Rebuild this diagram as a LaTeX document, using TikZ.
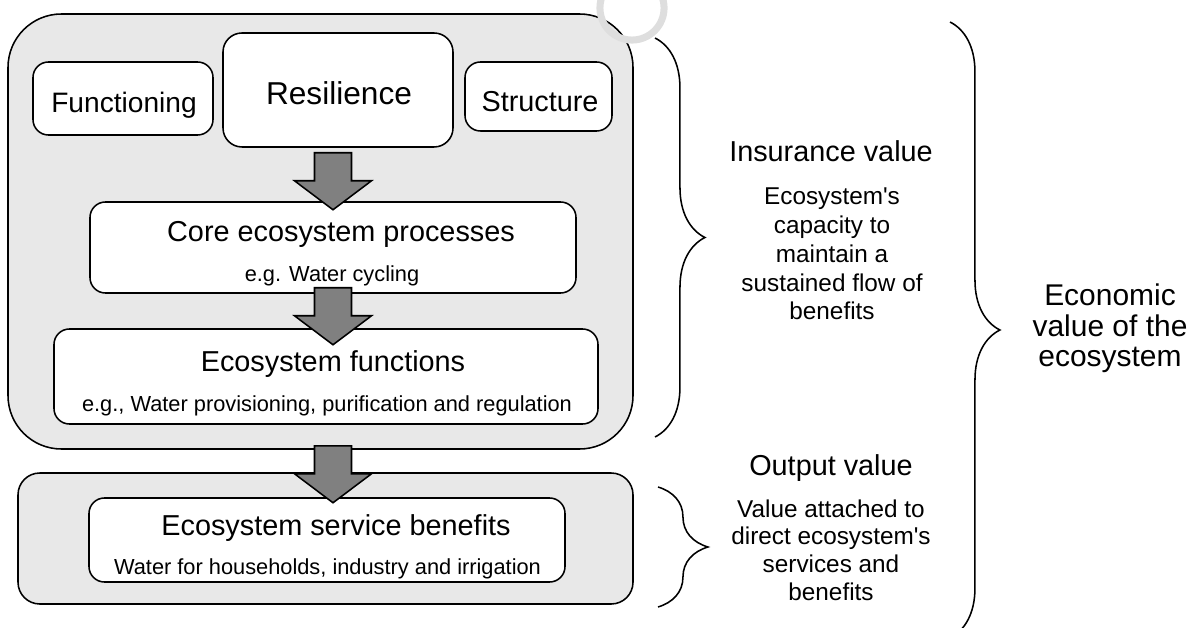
\documentclass[tikz,border=0pt]{standalone}
\usepackage{fontspec}
\setmainfont{Liberation Sans}
\usetikzlibrary{fit,calc,positioning,decorations.pathreplacing}

\definecolor{panelgray}{RGB}{232,232,232}
\definecolor{arrowgray}{RGB}{128,128,128}
\definecolor{markgray}{RGB}{222,222,222}

\tikzset{
  panel/.style={draw, line width=1.1pt, fill=panelgray, inner sep=0pt},
  box/.style={draw, line width=1.1pt, fill=white, rounded corners=11pt, inner sep=0pt},
  ttl/.style={anchor=base, inner sep=0pt, font=\fontsize{20.5}{24}\selectfont},
  sub/.style={anchor=base, inner sep=0pt, font=\fontsize{15.5}{18}\selectfont},
  note/.style={anchor=base, inner sep=0pt, align=center},
  curly/.style={decorate, decoration={brace, amplitude=35.5pt}, line width=1.1pt},
  downarrow/.pic={
    \draw[fill=arrowgray, line width=1.1pt] (-18.5,0) -- (18.5,0) -- (18.5,28)
      -- (38.5,28) -- (0,57) -- (-38.5,28) -- (-18.5,28) -- cycle;
  }
}

\begin{document}
\begin{tikzpicture}[x=0.025cm, y=-0.025cm]
\useasboundingbox (0,0) rectangle (1188,628);

% panels
\node[panel, rounded corners=38pt, fit={(8,14) (633,449)}] (upper) {};
\node[panel, rounded corners=15.5pt, fit={(18,473) (633,604)}] (lower) {};

% boxes
\node[box, fit={(33,62) (213,135)}] (func) {};
\node[box, rounded corners=13.5pt, fit={(223,33) (453,147)}] (res) {};
\node[box, fit={(465,62) (612,131)}] (struc) {};
\node[box, fit={(90,202) (576,293)}] (core) {};
\node[box, fit={(54,329) (598,424)}] (efun) {};
\node[box, fit={(89,498) (565,582)}] (serv) {};

\node[ttl, font=\fontsize{20}{24}\selectfont] (functxt) at (124,113) {Functioning};
\node[ttl, font=\fontsize{22.5}{27}\selectfont] (restxt) at (339,105) {Resilience};
\node[ttl] (structxt) at (540,111.7) {Structure};
\node[ttl] (coretxt) at (341,241.7) {Core ecosystem processes};
\node[sub] (coresub) at (332,281.7) {e.g. Water cycling};
\node[ttl] (efuntxt) at (333,371.7) {Ecosystem functions};
\node[sub] (efunsub) at (327,411.7) {e.g., Water provisioning, purification and regulation};
\node[ttl] (servtxt) at (336,535) {Ecosystem service benefits};
\node[sub] (servsub) at (327.5,574) {Water for households, industry and irrigation};

% block arrows
\pic at ($(core.north |- res.south)+(0,5)$) {downarrow};
\pic at ($(core.south)+(0,-6)$) {downarrow};
\pic at ($(core.south |- upper.south)+(0,-4)$) {downarrow};

% values (base = last line)
\node[ttl] (insv) at (831,161.7) {Insurance value};
\node[note, font=\fontsize{17.3}{20.6}\selectfont] (insd) at (832,320)
  {Ecosystem\textquotesingle s\\capacity to\\maintain a\\sustained flow of\\benefits};
\node[ttl] (outv) at (831,475) {Output value};
\node[note, font=\fontsize{17.3}{19.6}\selectfont] (outd) at (831,600)
  {Value attached to\\direct ecosystem\textquotesingle s\\services and\\benefits};
\node[note, font=\fontsize{21.3}{22}\selectfont] (econ) at (1110,367)
  {Economic\\value of the\\ecosystem};

% braces
\draw[curly] (655,38) -- (655,437);
\draw[curly] (658,487) -- (658,607);
\draw[curly] (950,22) -- (950,638);

\draw[markgray, line width=5pt] (632,8) circle[radius=22.8pt];
\end{tikzpicture}
\end{document}
